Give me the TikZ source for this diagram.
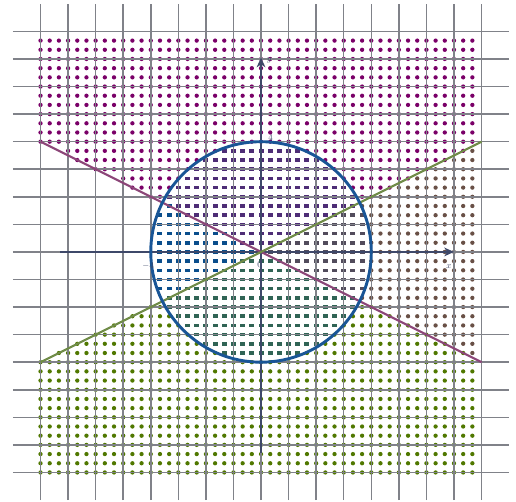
\documentclass[tikz,border=0pt]{standalone}
\usetikzlibrary{arrows.meta}
\definecolor{gridc}{RGB}{128,130,137}
\definecolor{axisc}{RGB}{62,72,105}
\definecolor{out1}{RGB}{122,0,104}
\definecolor{out2}{RGB}{80,120,0}
\definecolor{out3}{RGB}{105,80,70}
\definecolor{in1}{RGB}{78,45,118}
\definecolor{in2}{RGB}{48,100,85}
\definecolor{in3}{RGB}{82,76,92}
\definecolor{in4}{RGB}{10,78,140}
\definecolor{lineA}{RGB}{140,70,120}
\definecolor{lineB}{RGB}{112,140,72}
\definecolor{circc}{RGB}{25,85,150}
\tikzset{
  gridline/.style={draw=gridc, line width=1.6pt},
  axisline/.style={draw=axisc, line width=1.4pt, -{Stealth[length=10pt,width=9pt,inset=3pt]}},
  lbl/.style={text=axisc, font=\small, inner sep=1pt},
}
\begin{document}
\begin{tikzpicture}[x=1cm,y=1cm]
\useasboundingbox (-9.47,-9.07) rectangle (9.25,9.14);
% dots
\foreach \k in {0,...,47}{
  \foreach \m in {0,...,47}{
    \pgfmathsetmacro\px{-8+\k/3}
    \pgfmathsetmacro\py{-8+\m/3}
    \pgfmathtruncatemacro\reg{ifthenelse(\py>=abs(\px)/2, 1, ifthenelse(\py<=-abs(\px)/2, 2, ifthenelse(\px>0,3,4)))}
    \pgfmathtruncatemacro\inc{ifthenelse(\px*\px+\py*\py<16,1,0)}
    \ifnum\inc=1
      \fill[in\reg] (\px-0.09,\py-0.065) rectangle ++(0.18,0.13);
    \else
      \ifnum\reg<4
        \fill[out\reg] (\px,\py) circle (0.078);
      \fi
    \fi
  }
}
% grid
\foreach \t in {-8,...,8}{
  \draw[gridline] (\t,-9) -- (\t,9);
  \draw[gridline] (-9,\t) -- (9,\t);
}
% axes
\coordinate (xs) at (-7.3,0);
\coordinate (xe) at (7.0,0);
\coordinate (ys) at (0,-7.3);
\coordinate (ye) at (0,7.05);
\draw[axisline] (xs) -- (xe);
\draw[axisline] (ys) -- (ye);
% lines
\coordinate (a1) at (-8,4);
\coordinate (a2) at (8,-4);
\coordinate (b1) at (-8,-4);
\coordinate (b2) at (8,4);
\draw[lineA, line width=2.2pt] (a1) -- (a2);
\draw[lineB, line width=2.2pt] (b1) -- (b2);
% circle
\coordinate (O) at (0,0);
\draw[circc, line width=3pt] (O) circle (4);
% labels
\node[lbl] (lx) at (6.82,-0.55) {$x$};
\node[lbl] (ly) at (0.3,6.95) {$y$};
\node[lbl] (lo) at (-0.05,-0.45) {$0$};
\node[lbl] (lm4) at (-4.1,-0.5) {$-4$};
\node[lbl] (l4) at (0.35,4.15) {$4$};
\end{tikzpicture}
\end{document}
